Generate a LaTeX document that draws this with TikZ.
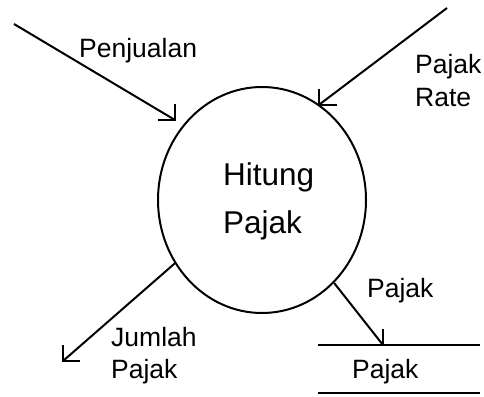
\documentclass[tikz,border=0pt]{standalone}
\usepackage{fontspec}
\setmainfont{Liberation Sans}
\usetikzlibrary{shapes.geometric}
\begin{document}
\begin{tikzpicture}[x=1pt,y=-1pt,
  ln/.style={line width=2pt, line cap=butt},
  lbl/.style={anchor=base west, inner sep=0pt, font=\fontsize{26.5}{30}\selectfont},
  big/.style={anchor=base west, inner sep=0pt, font=\fontsize{31.5}{36}\selectfont}]
\useasboundingbox (0,0) rectangle (484,396);
% process
\node[draw, ellipse, ln, minimum width=208pt, minimum height=226pt, inner sep=0pt] (p) at (262,200) {};
\node[big] (t1) at (223,185) {Hitung};
\node[big] (t2) at (223,233) {Pajak};
% endpoints
\coordinate (s1) at (14,24);
\coordinate (e1) at (175,120);
\coordinate (s2) at (447,8);
\coordinate (e2) at (p.59.5);
\coordinate (e3) at (63,361);
\coordinate (e4) at (383,345);
% store
\coordinate (d1) at (318,345);
\coordinate (d2) at (480,345);
\coordinate (d3) at (318,393);
\coordinate (d4) at (480,393);
\draw[ln] (d1) -- (d2);
\draw[ln] (d3) -- (d4);
% flows
\draw[ln] (s1) -- (e1);
\draw[ln] (e1) ++(0,-16) -- (e1) -- ++(-17,0);
\draw[ln] (s2) -- (e2);
\draw[ln] (e2) ++(0,-16) -- (e2) -- ++(18,0);
\draw[ln] (p.216.8) -- (e3);
\draw[ln] (e3) ++(0,-16) -- (e3) -- ++(17,0);
\draw[ln] (p.311.7) -- (e4);
\draw[ln] (e4) ++(0,-16) -- (e4);
% labels
\node[lbl] (l1) at (79,57) {Penjualan};
\node[lbl] (l2) at (415,74) {Pajak};
\node[lbl] (l3) at (415,106) {Rate};
\node[lbl] (l4) at (111,346) {Jumlah};
\node[lbl] (l5) at (111,378) {Pajak};
\node[lbl] (l6) at (367,297) {Pajak};
\node[lbl] (l7) at (352,378) {Pajak};
\end{tikzpicture}
\end{document}
